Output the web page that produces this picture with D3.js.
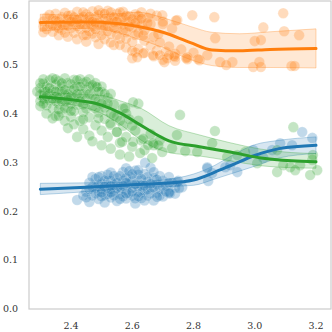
<!DOCTYPE html>
<html>
<head>
<meta charset="utf-8">
<script src="https://cdn.jsdelivr.net/npm/d3@7"></script>
<style>
  html, body { margin: 0; padding: 0; background: #fff; }
  svg { display: block; }
</style>
</head>
<body>
<div id="chart"></div>
<script>
const W = 332;
const H = 332;

const xTicks = [2.4, 2.6, 2.8, 3.0, 3.2];
const yTicks = [0.0, 0.1, 0.2, 0.3, 0.4, 0.5, 0.6];

// scatter points [x, y]
const bluePoints = [
  [2.42,0.223],[2.46,0.219],[2.45,0.240],[2.46,0.258],[2.47,0.232],[2.48,0.248],[2.48,0.266],[2.49,0.225],
  [2.49,0.240],[2.50,0.256],[2.50,0.272],[2.51,0.233],[2.51,0.218],[2.52,0.247],[2.52,0.262],[2.53,0.228],
  [2.53,0.279],[2.54,0.240],[2.54,0.254],[2.55,0.268],[2.55,0.221],[2.56,0.235],[2.56,0.250],[2.57,0.280],
  [2.57,0.262],[2.58,0.226],[2.58,0.244],[2.59,0.257],[2.59,0.271],[2.60,0.232],[2.60,0.248],[2.61,0.283],
  [2.61,0.216],[2.62,0.240],[2.62,0.263],[2.63,0.253],[2.63,0.227],[2.64,0.276],[2.64,0.242],[2.65,0.260],
  [2.65,0.232],[2.66,0.249],[2.66,0.289],[2.67,0.268],[2.67,0.222],[2.68,0.238],[2.68,0.255],[2.69,0.245],
  [2.70,0.262],[2.70,0.230],[2.71,0.252],[2.72,0.270],[2.72,0.240],[2.73,0.258],[2.74,0.248],[2.75,0.262],
  [2.47,0.250],[2.50,0.245],[2.53,0.262],[2.56,0.243],[2.59,0.237],[2.62,0.250],[2.65,0.270],[2.58,0.288],
  [2.54,0.272],[2.51,0.263],[2.60,0.262],[2.63,0.238],[2.57,0.230],[2.52,0.235],[2.49,0.255],[2.66,0.256],
  [2.69,0.272],[2.61,0.226],[2.55,0.247],[2.44,0.232],[2.47,0.270],[2.53,0.245],[2.58,0.268],[2.62,0.275],
  [2.45,0.228],[2.46,0.245],[2.48,0.236],[2.49,0.270],[2.50,0.230],[2.51,0.250],[2.52,0.275],[2.53,0.252],
  [2.54,0.232],[2.55,0.258],[2.56,0.272],[2.56,0.225],[2.57,0.252],[2.58,0.236],[2.59,0.282],[2.60,0.240],
  [2.60,0.276],[2.61,0.255],[2.62,0.230],[2.63,0.266],[2.64,0.252],[2.64,0.222],[2.65,0.245],[2.66,0.236],
  [2.67,0.248],[2.67,0.280],[2.68,0.265],[2.69,0.232],[2.70,0.250],[2.71,0.240],[2.72,0.258],[2.74,0.236],
  [2.53,0.238],[2.58,0.258],[2.62,0.284],[2.50,0.238],
  [2.642,0.299],[2.681,0.229],[2.724,0.237],[2.763,0.249],[2.747,0.260],[2.845,0.290],[2.861,0.278],
  [2.904,0.290],[2.92,0.294],[2.848,0.262],[2.753,0.247],[2.72,0.237],[2.845,0.288],[2.943,0.280],
  [2.995,0.325],[3.028,0.309],[3.057,0.325],[3.083,0.339],[3.122,0.335],[3.155,0.362],[3.188,0.350]
];

const orangePoints = [
  [2.31,0.566],[2.31,0.578],[2.31,0.588],[2.32,0.596],[2.32,0.572],[2.33,0.583],[2.34,0.593],[2.34,0.567],
  [2.35,0.604],[2.35,0.578],[2.36,0.588],[2.36,0.560],[2.37,0.597],[2.37,0.571],[2.38,0.606],[2.38,0.582],
  [2.39,0.557],[2.39,0.592],[2.40,0.575],[2.40,0.601],[2.41,0.565],[2.41,0.586],[2.42,0.608],[2.42,0.552],
  [2.43,0.595],[2.43,0.572],[2.44,0.583],[2.44,0.560],[2.45,0.603],[2.45,0.547],[2.46,0.590],[2.46,0.568],
  [2.47,0.609],[2.47,0.578],[2.48,0.556],[2.48,0.597],[2.49,0.585],[2.49,0.542],[2.50,0.605],[2.50,0.570],
  [2.51,0.593],[2.51,0.552],[2.52,0.581],[2.52,0.610],[2.53,0.563],[2.53,0.598],[2.54,0.540],[2.54,0.587],
  [2.55,0.604],[2.55,0.573],[2.56,0.594],[2.56,0.553],[2.57,0.582],[2.57,0.608],[2.58,0.535],[2.58,0.566],
  [2.59,0.599],[2.59,0.588],[2.60,0.546],[2.60,0.576],[2.61,0.603],[2.61,0.560],[2.62,0.591],[2.62,0.532],
  [2.63,0.581],[2.63,0.607],[2.64,0.549],[2.64,0.570],[2.65,0.596],[2.66,0.539],[2.66,0.583],[2.67,0.557],
  [2.68,0.600],[2.68,0.529],[2.69,0.545],[2.70,0.588],[2.71,0.526],[2.72,0.537],[2.73,0.574],[2.74,0.522],
  [2.76,0.531],[2.78,0.515],[2.80,0.524],[2.82,0.509],[2.49,0.602],[2.44,0.598],[2.39,0.600],[2.46,0.585],
  [2.52,0.590],[2.57,0.596],[2.47,0.563],[2.42,0.578],[2.36,0.574],[2.53,0.545],[2.56,0.540],[2.60,0.528],
  [2.64,0.524],[2.67,0.517],[2.70,0.510],[2.74,0.508],
  [2.33,0.602],[2.35,0.590],[2.37,0.582],[2.38,0.565],[2.40,0.588],[2.41,0.597],[2.43,0.583],[2.44,0.607],
  [2.45,0.575],[2.46,0.598],[2.47,0.588],[2.48,0.572],[2.49,0.611],[2.50,0.582],[2.51,0.604],[2.52,0.568],
  [2.53,0.607],[2.54,0.597],[2.55,0.588],[2.56,0.607],[2.57,0.570],[2.58,0.600],[2.59,0.578],[2.60,0.593],
  [2.61,0.585],[2.62,0.600],[2.63,0.594],[2.65,0.585],[2.66,0.604],[2.34,0.580],[2.39,0.579],[2.42,0.592],
  [2.48,0.585],[2.51,0.578],[2.54,0.575],[2.58,0.553],[2.62,0.565],[2.45,0.560],[2.50,0.560],[2.55,0.560],
  [2.698,0.601],[2.70,0.583],[2.747,0.591],[2.796,0.601],[2.868,0.597],[2.636,0.560],[2.685,0.562],
  [2.871,0.554],[2.61,0.525],[2.636,0.523],[2.668,0.519],[2.69,0.519],[2.714,0.513],[2.74,0.515],
  [2.78,0.511],[2.815,0.511],[2.845,0.519],[2.887,0.505],[2.927,0.505],[2.60,0.513],[2.616,0.515],
  [2.743,0.590],[2.737,0.517],[2.776,0.513],[2.72,0.519],[2.705,0.505],[2.907,0.499],
  [3.093,0.605],[3.028,0.576],[3.096,0.568],[3.145,0.560],[3.0,0.548],[3.02,0.550],
  [2.995,0.495],[3.02,0.495],[3.015,0.505],[3.12,0.497],[3.13,0.497]
];

const greenPoints = [
  [2.30,0.452],[2.30,0.438],[2.30,0.425],[2.31,0.461],[2.31,0.445],[2.31,0.430],[2.32,0.417],[2.32,0.455],
  [2.33,0.440],[2.33,0.468],[2.33,0.427],[2.34,0.448],[2.34,0.410],[2.35,0.459],[2.35,0.434],[2.36,0.420],
  [2.36,0.466],[2.36,0.446],[2.37,0.402],[2.37,0.455],[2.38,0.437],[2.38,0.425],[2.39,0.462],[2.39,0.412],
  [2.40,0.447],[2.40,0.393],[2.41,0.469],[2.41,0.431],[2.42,0.455],[2.42,0.418],[2.43,0.440],[2.43,0.385],
  [2.44,0.462],[2.44,0.403],[2.45,0.428],[2.45,0.449],[2.46,0.470],[2.46,0.392],[2.47,0.415],[2.47,0.438],
  [2.48,0.455],[2.48,0.376],[2.49,0.425],[2.49,0.402],[2.50,0.444],[2.50,0.365],[2.51,0.412],[2.51,0.389],
  [2.52,0.432],[2.52,0.352],[2.53,0.400],[2.53,0.377],[2.54,0.418],[2.55,0.362],[2.55,0.393],[2.56,0.340],
  [2.57,0.410],[2.57,0.375],[2.58,0.352],[2.59,0.388],[2.60,0.332],[2.61,0.365],[2.62,0.420],[2.63,0.345],
  [2.64,0.325],[2.66,0.358],[2.67,0.335],[2.69,0.345],[2.32,0.400],[2.35,0.395],[2.38,0.385],[2.41,0.378],
  [2.44,0.368],[2.46,0.355],[2.39,0.370],[2.42,0.352],[2.47,0.343],[2.50,0.335],[2.53,0.328],[2.56,0.316],
  [2.59,0.312],[2.34,0.390],[2.37,0.445],[2.40,0.460],[2.43,0.470],[2.46,0.455],[2.48,0.462],[2.50,0.455],
  [2.31,0.470],[2.34,0.472],[2.38,0.472],[2.30,0.415],[2.40,0.420],[2.45,0.410],[2.49,0.390],[2.52,0.420],
  [2.32,0.445],[2.35,0.425],[2.44,0.440],[2.36,0.408],[2.485,0.454],[2.577,0.411],[2.603,0.423],
  [2.528,0.380],[2.55,0.362],[2.567,0.342],
  [2.29,0.445],[2.30,0.462],[2.31,0.420],[2.32,0.435],[2.33,0.452],[2.34,0.430],[2.35,0.470],[2.35,0.445],
  [2.36,0.432],[2.37,0.425],[2.37,0.462],[2.38,0.448],[2.38,0.410],[2.39,0.440],[2.39,0.428],[2.40,0.435],
  [2.41,0.450],[2.41,0.405],[2.42,0.440],[2.42,0.468],[2.43,0.425],[2.43,0.455],[2.44,0.418],[2.45,0.465],
  [2.46,0.440],[2.47,0.458],[2.48,0.430],[2.48,0.410],[2.49,0.445],[2.50,0.420],[2.51,0.440],[2.53,0.440],
  [2.54,0.395],[2.56,0.385],[2.58,0.400],[2.60,0.375],[2.62,0.385],[2.40,0.405],[2.44,0.388],[2.36,0.395],
  [2.756,0.397],[2.870,0.364],[2.603,0.342],[2.636,0.348],[2.652,0.335],[2.668,0.339],[2.685,0.335],
  [2.626,0.319],[2.746,0.356],[2.730,0.329],[2.773,0.323],[2.812,0.321],[2.861,0.339],[2.665,0.309],
  [2.698,0.321],[2.910,0.311],[3.126,0.372],[3.073,0.325],[3.116,0.290],[3.148,0.294],[3.188,0.305],
  [3.204,0.284],[3.181,0.274],[3.073,0.280],[3.132,0.284],[3.008,0.298],[2.969,0.321],[2.943,0.315],
  [3.190,0.315],[3.093,0.294]
];

// fitted curve [x, y, lower, upper]
const blueFit = [
  [2.30,0.245,0.234,0.257],[2.45,0.249,0.240,0.258],[2.60,0.254,0.248,0.260],[2.70,0.257,0.250,0.264],
  [2.80,0.264,0.253,0.276],[2.87,0.280,0.266,0.294],[2.92,0.293,0.276,0.312],[3.00,0.314,0.292,0.336],
  [3.08,0.328,0.309,0.345],[3.20,0.335,0.318,0.352]
];
const orangeFit = [
  [2.30,0.586,0.568,0.603],[2.45,0.587,0.574,0.601],[2.55,0.584,0.566,0.604],[2.62,0.578,0.552,0.607],
  [2.70,0.566,0.535,0.596],[2.79,0.545,0.510,0.578],[2.86,0.530,0.498,0.566],[2.95,0.528,0.494,0.563],
  [3.05,0.531,0.494,0.567],[3.20,0.533,0.493,0.573]
];
const greenFit = [
  [2.30,0.434,0.424,0.446],[2.40,0.428,0.418,0.440],[2.50,0.417,0.400,0.437],[2.56,0.401,0.378,0.426],
  [2.63,0.375,0.345,0.410],[2.72,0.344,0.320,0.375],[2.82,0.332,0.313,0.356],[2.92,0.321,0.303,0.340],
  [3.02,0.309,0.293,0.327],[3.12,0.303,0.289,0.320],[3.20,0.301,0.288,0.318]
];

const series = [
  { name: "blue", color: "#1f77b4", points: bluePoints, fit: blueFit },
  { name: "orange", color: "#ff7f0e", points: orangePoints, fit: orangeFit },
  { name: "green", color: "#2ca02c", points: greenPoints, fit: greenFit },
];

const margin = { top: 1, right: 1, bottom: 23, left: 29 };
const FONT = "'DejaVu Serif', 'Liberation Serif', serif";

const x = d3.scaleLinear().domain([2.263, 3.249]).range([margin.left, W - margin.right]);
const y = d3.scaleLinear().domain([0, 0.63]).range([H - margin.bottom, margin.top]);

const svg = d3.select("#chart").append("svg")
  .attr("width", W).attr("height", H)
  .attr("viewBox", `0 0 ${W} ${H}`);

const plot = svg.append("g");

const line = d3.line().x((d) => x(d[0])).y((d) => y(d[1])).curve(d3.curveMonotoneX);
const area = d3.area().x((d) => x(d[0])).y0((d) => y(d[2])).y1((d) => y(d[3])).curve(d3.curveMonotoneX);

series.forEach((s) => {
  plot.append("g").selectAll("circle").data(s.points).join("circle")
    .attr("cx", (d) => x(d[0]))
    .attr("cy", (d) => y(d[1]))
    .attr("r", 5.3)
    .attr("fill", s.color)
    .attr("fill-opacity", 0.28)
    .attr("stroke", "#fff")
    .attr("stroke-opacity", 0.35)
    .attr("stroke-width", 0.6);
});

series.forEach((s) => {
  plot.append("path").datum(s.fit)
    .attr("d", area)
    .attr("fill", s.color)
    .attr("fill-opacity", 0.18)
    .attr("stroke", s.color)
    .attr("stroke-opacity", 0.3)
    .attr("stroke-width", 1);
});

series.forEach((s) => {
  plot.append("path").datum(s.fit)
    .attr("d", line)
    .attr("fill", "none")
    .attr("stroke", s.color)
    .attr("stroke-width", 3)
    .attr("stroke-linecap", "round");
});

// frame
svg.append("rect")
  .attr("x", margin.left).attr("y", margin.top)
  .attr("width", W - margin.left - margin.right)
  .attr("height", H - margin.top - margin.bottom)
  .attr("fill", "none")
  .attr("stroke", "#ccc")
  .attr("stroke-width", 1.2);

svg.append("g").selectAll("text").data(yTicks).join("text")
  .attr("font-family", FONT)
  .attr("font-size", 9.5)
  .attr("fill", "#333")
  .attr("x", 18)
  .attr("y", (d) => y(d))
  .attr("dy", "0.35em")
  .attr("text-anchor", "end")
  .text((d) => d.toFixed(1));

svg.append("g").selectAll("text").data(xTicks).join("text")
  .attr("font-family", FONT)
  .attr("font-size", 9.5)
  .attr("fill", "#333")
  .attr("x", (d) => x(d))
  .attr("y", 328.5)
  .attr("text-anchor", "middle")
  .text((d) => d.toFixed(1));
</script>
</body>
</html>
